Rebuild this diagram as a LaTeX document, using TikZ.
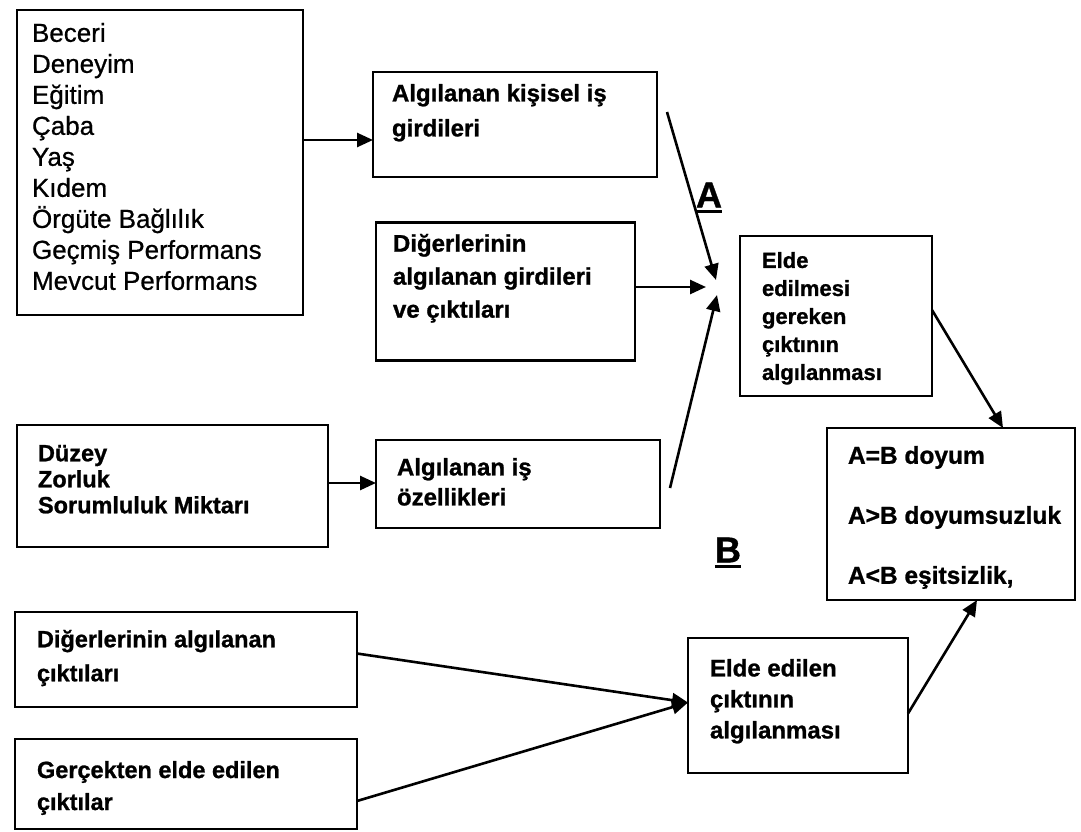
\documentclass[tikz,border=0pt]{standalone}
\usepackage{fontspec}
\setmainfont{Liberation Sans}
\newfontfamily\fReg[FakeBold=0.7]{Liberation Sans}
\newfontfamily\fBld[FakeBold=1.0]{Liberation Sans Bold}
\usetikzlibrary{arrows.meta}
\begin{document}
\begin{tikzpicture}[x=1pt,y=-1pt,
  box/.style={draw=black, line width=2.5pt, inner sep=0pt, outer sep=0pt},
  txt/.style={anchor=north west, inner sep=0pt, outer sep=0pt, align=left},
  arr/.style={line width=2.6pt, -{Triangle[length=16pt,width=14pt]}},
  lab/.style={inner sep=0pt, font=\fBld\fontsize{36}{38}\selectfont}]
\useasboundingbox[fill=white] (0,0) rectangle (1081,832);

% boxes
\node[box, minimum width=286, minimum height=305] (skills) at (160,162.5) {};
\node[box, minimum width=284, minimum height=105] (inp) at (515,124.5) {};
\node[box, minimum width=259, minimum height=138] (oth) at (505.5,291.5) {};
\node[box, minimum width=311, minimum height=122] (lvl) at (172.5,486) {};
\node[box, minimum width=284, minimum height=88] (job) at (518,484) {};
\node[box, minimum width=192, minimum height=160] (req) at (836,316) {};
\node[box, minimum width=248, minimum height=172] (res) at (951,514) {};
\node[box, minimum width=342, minimum height=95] (oo) at (186,659.5) {};
\node[box, minimum width=342, minimum height=90] (act) at (186,784) {};
\node[box, minimum width=220, minimum height=135] (obt) at (798,705.5) {};

% texts
\node[txt, font=\fReg\fontsize{26}{31}\selectfont] (skillsT) at (32,23)
  {Beceri\\Deneyim\\Eğitim\\Çaba\\Yaş\\Kıdem\\Örgüte Bağlılık\\Geçmiş Performans\\Mevcut Performans};
\node[txt, font=\fBld\fontsize{24}{35}\selectfont] (inpT) at (392,84)
  {Algılanan kişisel iş\\girdileri};
\node[txt, font=\fBld\fontsize{24}{33}\selectfont] (othT) at (393,234)
  {Diğerlerinin\\algılanan girdileri\\ve çıktıları};
\node[txt, font=\fBld\fontsize{23.5}{26}\selectfont] (lvlT) at (38,445)
  {Düzey\\Zorluk\\Sorumluluk Miktarı};
\node[txt, font=\fBld\fontsize{24}{30}\selectfont] (jobT) at (397,458)
  {Algılanan iş\\özellikleri};
\node[txt, font=\fBld\fontsize{22}{28}\selectfont] (reqT) at (762,252)
  {Elde\\edilmesi\\gereken\\çıktının\\algılanması};
\node[txt, font=\fBld\fontsize{24.5}{60}\selectfont] (resT) at (848,446)
  {A=B doyum\\A>B doyumsuzluk\\A<B eşitsizlik,};
\node[txt, font=\fBld\fontsize{23.5}{34}\selectfont] (ooT) at (37,630)
  {Diğerlerinin algılanan\\çıktıları};
\node[txt, font=\fBld\fontsize{23.5}{32}\selectfont] (actT) at (37,761)
  {Gerçekten elde edilen\\çıktılar};
\node[txt, font=\fBld\fontsize{24}{31}\selectfont] (obtT) at (710,659)
  {Elde edilen\\çıktının\\algılanması};

% labels A and B
\node[lab] (labA) at (709,195) {A};
\node[lab] (labB) at (728,550) {B};
\draw[line width=3.5pt] ([yshift=-4pt]labA.south west) -- ([yshift=-4pt]labA.south east);
\draw[line width=3.5pt] ([yshift=-4pt]labB.south west) -- ([yshift=-4pt]labB.south east);

% free ends
\coordinate (a1) at (667,112);
\coordinate (a2) at (716,280);
\coordinate (m2) at (706,287);
\coordinate (b1) at (670,488);
\coordinate (b2) at (717,295);

% connectors
\draw[arr] ([yshift=22.5pt]skills.east) -- ([yshift=-15.5pt]inp.west);
\draw[arr] ([yshift=3pt]lvl.east) -- ([yshift=3pt]lvl.east -| job.west);
\draw[arr] (a1) -- (a2);
\draw[arr] ([yshift=4.5pt]oth.east) -- (m2);
\draw[arr] (b1) -- (b2);
\draw[arr] ([yshift=6pt]req.east) -- ([xshift=52pt]res.north);
\draw[arr] ([yshift=-8pt]obt.east) -- ([xshift=26pt]res.south);
\draw[arr] ([yshift=6pt]oo.east) -- ([yshift=3pt]obt.west);
\draw[arr] ([yshift=-17pt]act.east) -- ([yshift=3pt]obt.west);
\end{tikzpicture}
\end{document}
